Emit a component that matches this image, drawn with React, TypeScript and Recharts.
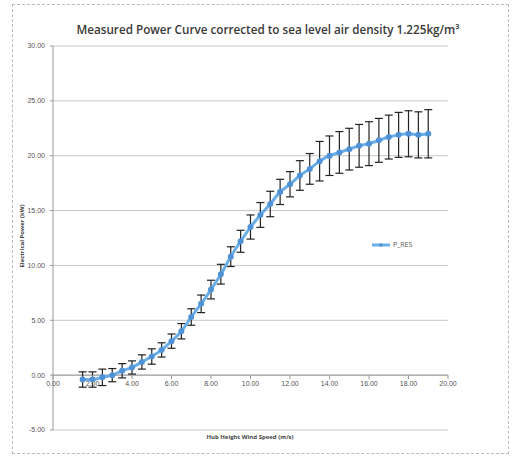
import React from "react";
import {
  ComposedChart,
  Line,
  XAxis,
  YAxis,
  CartesianGrid,
  ErrorBar,
  ReferenceLine,
  ReferenceDot,
} from "recharts";

// hub height wind speed bins (m/s)
const windSpeed = [
  1.5, 2.0, 2.5, 3.0, 3.5, 4.0, 4.5, 5.0, 5.5, 6.0, 6.5, 7.0, 7.5, 8.0, 8.5,
  9.0, 9.5, 10.0, 10.5, 11.0, 11.5, 12.0, 12.5, 13.0, 13.5, 14.0, 14.5, 15.0,
  15.5, 16.0, 16.5, 17.0, 17.5, 18.0, 18.5, 19.0,
];

// measured power (kW)
const power = [
  -0.4, -0.4, -0.2, 0.0, 0.4, 0.7, 1.2, 1.7, 2.3, 3.1, 4.0, 5.3, 6.5, 7.8, 9.2,
  10.8, 12.2, 13.5, 14.6, 15.6, 16.7, 17.4, 18.2, 18.8, 19.5, 20.0, 20.3, 20.6,
  20.9, 21.1, 21.4, 21.7, 21.9, 22.0, 21.9, 22.0,
];

// uncertainty (+/- kW)
const uncertainty = [
  0.7, 0.7, 0.75, 0.6, 0.65, 0.6, 0.65, 0.7, 0.65, 0.65, 0.7, 0.75, 0.8, 0.85,
  0.9, 0.9, 1.0, 1.1, 1.13, 1.16, 1.15, 1.15, 1.35, 1.4, 1.8, 1.8, 1.9, 1.9,
  1.95, 2.0, 2.0, 2.0, 2.05, 2.1, 2.1, 2.2,
];

const xTicks = [0, 2, 4, 6, 8, 10, 12, 14, 16, 18, 20];
const yTicks = [-5, 0, 5, 10, 15, 20, 25, 30];

const data = windSpeed.map((ws, i) => ({
  ws,
  power: power[i],
  err: uncertainty[i],
}));

const fmt = (v: number) => v.toFixed(2);

const XTickMark = (props: any) => {
  const { cx, cy, label } = props;
  return (
    <g>
      <line x1={cx} y1={cy} x2={cx} y2={cy + 4} stroke="#999" />
      <text
        x={cx}
        y={cy + 11}
        textAnchor="middle"
        fontSize={7}
        fill="#555"
        fontFamily="Liberation Sans, sans-serif"
      >
        {label}
      </text>
    </g>
  );
};

export default function App() {
  return (
    <div
      style={{
        position: "absolute",
        left: 0,
        top: 0,
        width: 515,
        height: 462,
        background: "#fff",
        fontFamily: "'Open Sans', sans-serif",
      }}
    >
      <div
        style={{
          position: "absolute",
          left: 12,
          top: 4,
          width: 495,
          height: 448,
          border: "1px dashed #bbb",
        }}
      />
      <div
        style={{
          position: "absolute",
          left: 0,
          width: 536,
          top: 21,
          textAlign: "center",
          fontSize: 11.7,
          fontWeight: 600,
          color: "#3a3a3a",
        }}
      >
        Measured Power Curve corrected to sea level air density 1.225kg/m³
      </div>
      <div
        style={{
          position: "absolute",
          left: 0,
          width: 500,
          top: 433,
          textAlign: "center",
          fontSize: 6,
          fontWeight: 700,
          color: "#444",
        }}
      >
        Hub Height Wind Speed (m/s)
      </div>
      <div
        style={{
          position: "absolute",
          left: 22,
          top: 236,
          fontSize: 6,
          fontWeight: 700,
          color: "#444",
          transform: "translate(-50%, -50%) rotate(-90deg)",
          whiteSpace: "nowrap",
        }}
      >
        Electrical Power (kW)
      </div>
      <div
        style={{
          position: "absolute",
          left: 372,
          top: 240,
          display: "flex",
          alignItems: "center",
          fontSize: 7,
          color: "#555",
          zIndex: 2,
        }}
      >
        <svg width={18} height={8}>
          <line x1={0} y1={4} x2={18} y2={4} stroke="#6aaee8" strokeWidth={3} />
          <circle cx={9} cy={4} r={1.8} fill="#4f93d6" />
        </svg>
        <span style={{ marginLeft: 3 }}>P_RES</span>
      </div>
      <ComposedChart
        width={515}
        height={462}
        data={data}
        margin={{ top: 46, right: 67, bottom: 32, left: 13 }}
      >
        <CartesianGrid vertical={false} stroke="#c8c8c8" />
        <XAxis
          dataKey="ws"
          type="number"
          domain={[0, 20]}
          ticks={xTicks}
          hide
        />
        <YAxis
          type="number"
          domain={[-5, 30]}
          ticks={yTicks}
          width={40}
          tickFormatter={fmt}
          tick={{ fontSize: 7, fill: "#555", fontFamily: "Liberation Sans, sans-serif" }}
          tickSize={3}
          tickMargin={5}
          stroke="#999"
          interval={0}
        />
        <ReferenceLine y={0} stroke="#999" />
        {xTicks.map((t) => (
          <ReferenceDot
            key={t}
            x={t}
            y={0}
            r={0}
            shape={(p: any) => <XTickMark {...p} label={fmt(t)} />}
          />
        ))}
        <Line
          name="P_RES"
          dataKey="power"
          type="monotone"
          stroke="#6aaee8"
          strokeWidth={3}
          dot={{ r: 1.5, fill: "#4f93d6", stroke: "#4f93d6" }}
          isAnimationActive={false}
        >
          <ErrorBar
            dataKey="err"
            direction="y"
            width={4}
            stroke="#222"
            strokeWidth={1.2}
          />
        </Line>
      </ComposedChart>
    </div>
  );
}
